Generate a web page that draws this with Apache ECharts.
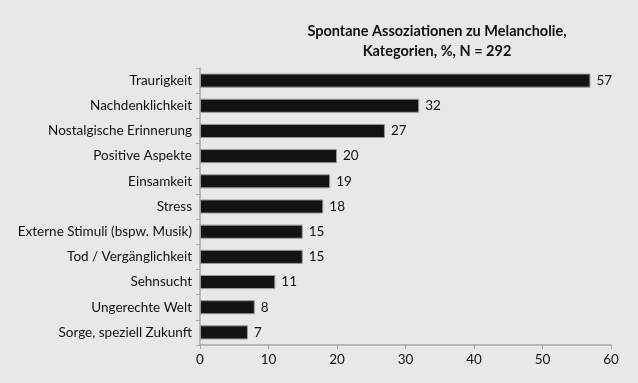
<!DOCTYPE html>
<html>
<head>
<meta charset="utf-8">
<script src="https://cdn.jsdelivr.net/npm/echarts@6/dist/echarts.min.js"></script>
<style>
  html, body { margin: 0; padding: 0; background: #fff; }
  #chart { width: 638px; height: 383px; }
</style>
</head>
<body>
<div id="chart"></div>
<script>
// categories top to bottom
const categories = [
  'Traurigkeit',
  'Nachdenklichkeit',
  'Nostalgische Erinnerung',
  'Positive Aspekte',
  'Einsamkeit',
  'Stress',
  'Externe Stimuli (bspw. Musik)',
  'Tod / Vergänglichkeit',
  'Sehnsucht',
  'Ungerechte Welt',
  'Sorge, speziell Zukunft'
];
const values = [57, 32, 27, 20, 19, 18, 15, 15, 11, 8, 7];
const titleText = 'Spontane Assoziationen zu Melancholie,\nKategorien, %, N = 292';

const myChart = echarts.init(document.getElementById('chart'));
const font = 'Lato, "Noto Sans", sans-serif';

let option = {
  backgroundColor: '#e8e8e8',
  animation: false,
  title: {
    text: titleText,
    left: 432,
    textAlign: 'center',
    top: 16,
    textStyle: {
      fontFamily: font,
      fontSize: 14.5,
      fontWeight: 'bold',
      color: '#111',
      lineHeight: 20
    }
  },
  grid: {
    left: 200,
    right: 27,
    top: 68,
    bottom: 38
  },
  xAxis: {
    type: 'value',
    min: 0,
    max: 60,
    interval: 10,
    splitLine: { show: false },
    axisLine: { show: true, lineStyle: { color: '#a8a8a8', width: 1.5 } },
    axisTick: { show: true, length: 4, lineStyle: { color: '#a8a8a8' } },
    axisLabel: { fontFamily: font, fontSize: 13.5, color: '#111', margin: 8 }
  },
  yAxis: {
    type: 'category',
    inverse: true,
    data: categories,
    axisLine: { show: true, lineStyle: { color: '#a8a8a8', width: 1.5 } },
    axisTick: { show: true, length: 4, lineStyle: { color: '#a8a8a8' } },
    axisLabel: { fontFamily: font, fontSize: 13.5, color: '#111', margin: 8 }
  },
  series: [
    {
      type: 'bar',
      data: values,
      barCategoryGap: '44%',
      itemStyle: {
        color: '#131313',
        borderColor: '#9a9a9a',
        borderWidth: 1
      },
      label: {
        show: true,
        position: 'right',
        distance: 6,
        fontFamily: font,
        fontSize: 13.5,
        color: '#111'
      }
    }
  ]
};

myChart.setOption(option);
</script>
</body>
</html>
